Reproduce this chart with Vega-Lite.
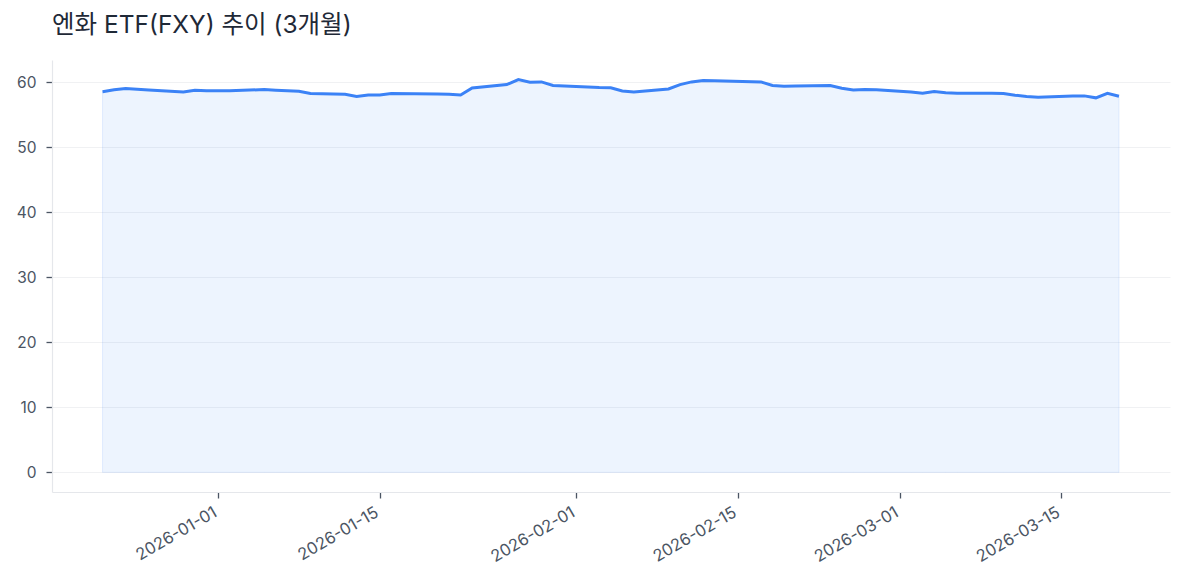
{
  "$schema": "https://vega.github.io/schema/vega-lite/v6.json",
  "width": 1118,
  "height": 432,
  "autosize": {"type": "none"},
  "padding": {"left": 52, "top": 60, "right": 14, "bottom": 93},
  "background": "white",
  "title": {
    "text": "엔화 ETF(FXY) 추이 (3개월)",
    "anchor": "start",
    "frame": "group",
    "font": "Inter, Noto Sans CJK KR",
    "fontSize": 24.5,
    "fontWeight": "normal",
    "color": "#1f2937",
    "baseline": "alphabetic",
    "offset": 3
  },
  "config": {
    "view": {"stroke": null},
    "axis": {
      "labelFont": "Inter",
      "labelFontSize": 15.5,
      "labelColor": "#4b5563",
      "domainColor": "#e5e7eb",
      "domainWidth": 1.2,
      "tickColor": "#4b5563",
      "tickWidth": 1.3,
      "tickSize": 6
    }
  },
  "data": {
    "values": [
      {"date": "2025-12-22", "value": 58.55},
      {"date": "2025-12-23", "value": 58.85},
      {"date": "2025-12-24", "value": 59.05},
      {"date": "2025-12-26", "value": 58.82},
      {"date": "2025-12-29", "value": 58.5},
      {"date": "2025-12-30", "value": 58.77},
      {"date": "2025-12-31", "value": 58.7},
      {"date": "2026-01-02", "value": 58.7},
      {"date": "2026-01-05", "value": 58.87},
      {"date": "2026-01-06", "value": 58.77},
      {"date": "2026-01-07", "value": 58.7},
      {"date": "2026-01-08", "value": 58.6},
      {"date": "2026-01-09", "value": 58.27},
      {"date": "2026-01-12", "value": 58.15},
      {"date": "2026-01-13", "value": 57.82},
      {"date": "2026-01-14", "value": 58.05},
      {"date": "2026-01-15", "value": 58.05},
      {"date": "2026-01-16", "value": 58.25},
      {"date": "2026-01-20", "value": 58.2},
      {"date": "2026-01-21", "value": 58.15},
      {"date": "2026-01-22", "value": 58.05},
      {"date": "2026-01-23", "value": 59.13},
      {"date": "2026-01-26", "value": 59.64},
      {"date": "2026-01-27", "value": 60.4},
      {"date": "2026-01-28", "value": 60.0},
      {"date": "2026-01-29", "value": 60.05},
      {"date": "2026-01-30", "value": 59.5},
      {"date": "2026-02-02", "value": 59.28},
      {"date": "2026-02-03", "value": 59.18},
      {"date": "2026-02-04", "value": 59.15},
      {"date": "2026-02-05", "value": 58.66},
      {"date": "2026-02-06", "value": 58.5},
      {"date": "2026-02-09", "value": 58.97},
      {"date": "2026-02-10", "value": 59.64},
      {"date": "2026-02-11", "value": 60.05},
      {"date": "2026-02-12", "value": 60.26},
      {"date": "2026-02-13", "value": 60.24},
      {"date": "2026-02-17", "value": 60.05},
      {"date": "2026-02-18", "value": 59.5},
      {"date": "2026-02-19", "value": 59.4},
      {"date": "2026-02-20", "value": 59.42},
      {"date": "2026-02-23", "value": 59.5},
      {"date": "2026-02-24", "value": 59.07},
      {"date": "2026-02-25", "value": 58.8},
      {"date": "2026-02-26", "value": 58.87},
      {"date": "2026-02-27", "value": 58.85},
      {"date": "2026-03-02", "value": 58.5},
      {"date": "2026-03-03", "value": 58.3},
      {"date": "2026-03-04", "value": 58.56},
      {"date": "2026-03-05", "value": 58.4},
      {"date": "2026-03-06", "value": 58.3},
      {"date": "2026-03-09", "value": 58.3},
      {"date": "2026-03-10", "value": 58.25},
      {"date": "2026-03-11", "value": 58.0},
      {"date": "2026-03-12", "value": 57.8},
      {"date": "2026-03-13", "value": 57.7},
      {"date": "2026-03-16", "value": 57.9},
      {"date": "2026-03-17", "value": 57.9},
      {"date": "2026-03-18", "value": 57.6},
      {"date": "2026-03-19", "value": 58.3},
      {"date": "2026-03-20", "value": 57.84}
    ]
  },
  "encoding": {
    "x": {
      "field": "date",
      "type": "temporal",
      "scale": {
        "type": "utc",
        "domain": [
          {"year": 2025, "month": 12, "date": 17, "hours": 15, "utc": true},
          {"year": 2026, "month": 3, "date": 24, "hours": 10, "utc": true}
        ]
      },
      "axis": {
        "title": null,
        "grid": false,
        "values": [
          {"year": 2026, "month": 1, "date": 1, "utc": true},
          {"year": 2026, "month": 1, "date": 15, "utc": true},
          {"year": 2026, "month": 2, "date": 1, "utc": true},
          {"year": 2026, "month": 2, "date": 15, "utc": true},
          {"year": 2026, "month": 3, "date": 1, "utc": true},
          {"year": 2026, "month": 3, "date": 15, "utc": true}
        ],
        "format": "%Y-%m-%d",
        "labelFontSize": 16.5,
        "labelAngle": -30,
        "labelAlign": "right",
        "labelBaseline": "top",
        "labelPadding": 6,
        "labelOffset": -7,
        "labelOverlap": false
      }
    },
    "y": {
      "field": "value",
      "type": "quantitative",
      "scale": {"domain": [-3.02, 63.42], "nice": false, "zero": false},
      "axis": {
        "title": null,
        "values": [0, 10, 20, 30, 40, 50, 60],
        "grid": true,
        "gridColor": "#f0f1f3",
        "gridWidth": 1,
        "labelPadding": 10
      }
    }
  },
  "layer": [
    {
      "mark": {
        "type": "area",
        "color": "#3b82f6",
        "fillOpacity": 0.09,
        "stroke": "#3b82f6",
        "strokeOpacity": 0.12,
        "strokeWidth": 1
      }
    },
    {
      "mark": {"type": "line", "color": "#3b82f6", "strokeWidth": 3}
    }
  ]
}
